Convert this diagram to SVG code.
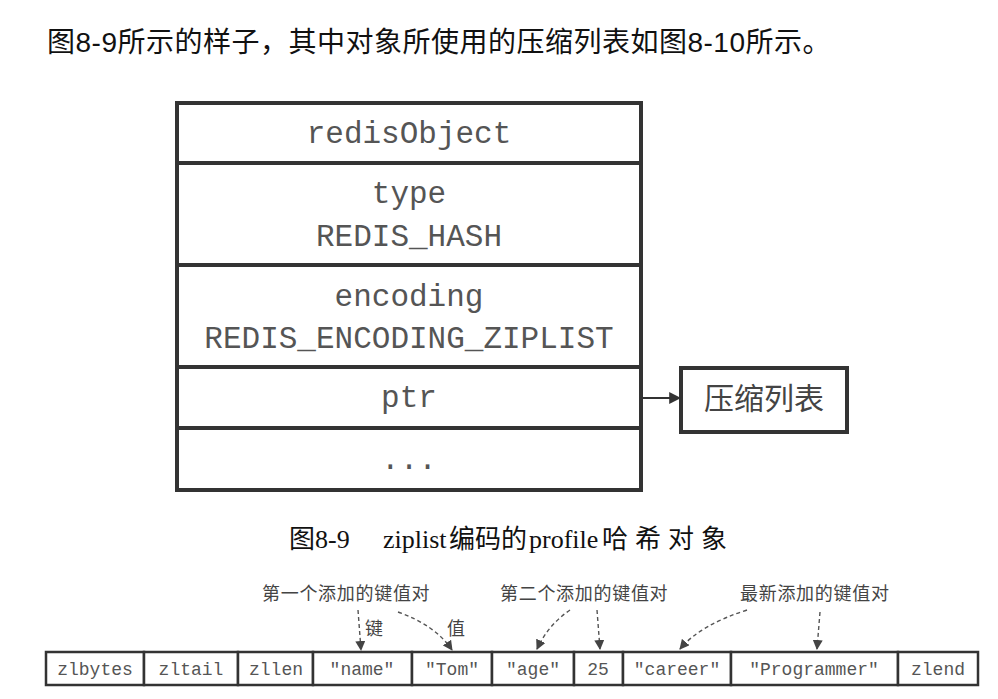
<svg xmlns="http://www.w3.org/2000/svg" width="998" height="699" viewBox="0 0 998 699">
<defs>
<marker id="ahs" viewBox="0 0 10 10" refX="9" refY="5" markerWidth="10" markerHeight="10" markerUnits="userSpaceOnUse" orient="auto"><path d="M0,0 L10,5 L0,10 z" fill="#444"/></marker>
<marker id="ahb" viewBox="0 0 10 10" refX="9" refY="5" markerWidth="12" markerHeight="12" markerUnits="userSpaceOnUse" orient="auto"><path d="M0,0 L10,5 L0,10 z" fill="#333"/></marker>
</defs>
<style>
.mono{font-family:"Liberation Mono","DejaVu Sans Mono",monospace;fill:#555;text-anchor:middle}
.big{font-size:31px}
.small{font-size:18px}
.cjk{font-family:"Noto Sans CJK SC",sans-serif;fill:#444}
.box{fill:#fff;stroke:#333;stroke-width:4}
.cell{fill:#fff;stroke:#333;stroke-width:2.5}
.dash{fill:none;stroke:#555;stroke-width:1.4;stroke-dasharray:4 3}
</style>
<rect width="998" height="699" fill="#fff"/>
<text x="47" y="52" font-family="Liberation Sans, Noto Sans CJK SC, sans-serif" font-size="28" letter-spacing="0.5" fill="#111">图8-9所示的样子，其中对象所使用的压缩列表如图8-10所示。</text>

<g id="redisObject">
<rect class="box" x="177" y="103" width="464" height="387"/>
<line x1="177" y1="163" x2="641" y2="163" stroke="#333" stroke-width="4"/>
<line x1="177" y1="265" x2="641" y2="265" stroke="#333" stroke-width="4"/>
<line x1="177" y1="367" x2="641" y2="367" stroke="#333" stroke-width="4"/>
<line x1="177" y1="428" x2="641" y2="428" stroke="#333" stroke-width="4"/>
<text class="mono big" x="409" y="143">redisObject</text>
<text class="mono big" x="409" y="203">type</text>
<text class="mono big" x="409" y="246">REDIS_HASH</text>
<text class="mono big" x="409" y="306">encoding</text>
<text class="mono big" x="409" y="348">REDIS_ENCODING_ZIPLIST</text>
<text class="mono big" x="409" y="407">ptr</text>
<text class="mono big" x="409" y="469">...</text>
</g>

<g id="ziplistBox">
<rect class="box" x="681" y="368" width="166" height="64"/>
<text class="cjk" x="764" y="409" font-size="30" text-anchor="middle" fill="#333">压缩列表</text>
</g>

<g id="caption">
<text y="548" font-size="26" fill="#111" font-family="Liberation Serif, Noto Sans CJK SC, serif"><tspan x="289">图8-9</tspan><tspan x="383">ziplist</tspan><tspan x="449">编码的</tspan><tspan x="529">profile</tspan><tspan x="602" letter-spacing="7">哈希对象</tspan></text>
</g>

<g id="ziplist">
<rect class="cell" x="46" y="652" width="98" height="33"/>
<rect class="cell" x="144" y="652" width="94" height="33"/>
<rect class="cell" x="238" y="652" width="75" height="33"/>
<rect class="cell" x="313" y="652" width="99" height="33"/>
<rect class="cell" x="412" y="652" width="80" height="33"/>
<rect class="cell" x="492" y="652" width="82" height="33"/>
<rect class="cell" x="574" y="652" width="49" height="33"/>
<rect class="cell" x="623" y="652" width="108" height="33"/>
<rect class="cell" x="731" y="652" width="167" height="33"/>
<rect class="cell" x="898" y="652" width="80" height="33"/>
<text class="mono small" x="95" y="675">zlbytes</text>
<text class="mono small" x="191" y="675">zltail</text>
<text class="mono small" x="276" y="675">zllen</text>
<text class="mono small" x="362" y="675">"name"</text>
<text class="mono small" x="452" y="675">"Tom"</text>
<text class="mono small" x="533" y="675">"age"</text>
<text class="mono small" x="598" y="675">25</text>
<text class="mono small" x="677" y="675">"career"</text>
<text class="mono small" x="814" y="675">"Programmer"</text>
<text class="mono small" x="938" y="675">zlend</text>
</g>

<g id="labels" class="cjk" font-size="18">
<text x="262" y="600" letter-spacing="0.7">第一个添加的键值对</text>
<text x="500" y="600" letter-spacing="0.7">第二个添加的键值对</text>
<text x="740" y="600" letter-spacing="0.7">最新添加的键值对</text>
<text x="365" y="635">键</text>
<text x="447" y="635">值</text>
</g>

<g id="connectors">
<line x1="643" y1="398" x2="680" y2="398" stroke="#333" stroke-width="2" marker-end="url(#ahb)"/>
<path class="dash" d="M358,610 L361,650" marker-end="url(#ahs)"/>
<path class="dash" d="M398,612 Q435,625 452,650" marker-end="url(#ahs)"/>
<path class="dash" d="M570,610 Q548,625 537,649" marker-end="url(#ahs)"/>
<path class="dash" d="M597,610 L600,649" marker-end="url(#ahs)"/>
<path class="dash" d="M747,610 Q700,625 680,649" marker-end="url(#ahs)"/>
<path class="dash" d="M820,612 L817,649" marker-end="url(#ahs)"/>
</g>
</svg>
